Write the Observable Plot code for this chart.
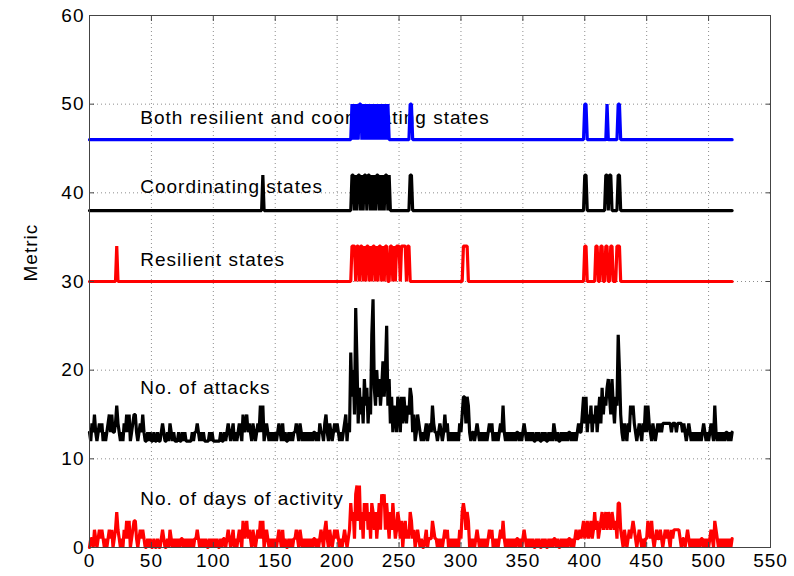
<!DOCTYPE html>
<html>
<head>
<meta charset="utf-8">
<script src="https://cdn.jsdelivr.net/npm/d3@7"></script>
<script src="https://cdn.jsdelivr.net/npm/@observablehq/plot@0.6"></script>
<style>
  html, body { margin: 0; padding: 0; background: #fff; }
  #chart { width: 794px; height: 576px; }
  #chart text { letter-spacing: 1px; }
</style>
</head>
<body>
<div id="chart"></div>
<script>
// ---- Data ----
const xTicks = [0, 50, 100, 150, 200, 250, 300, 350, 400, 450, 500, 550];
const yTicks = [0, 10, 20, 30, 40, 50, 60];

// No. of days of activity, one value per day (day 0..519)
const activityDays = [
  0,1,1,0,2,1,0,1,2,1, 2,1,0,1,0,1,2,1,2,0, 1,2,4,2,1,0,1,0,2,1, 3,1,3,0,1,2,3,3,1,0,
  1,2,1,2,1,0,0,1,0,1, 0,0,1,0,0,1,0,0,1,2, 1,0,0,1,0,2,1,0,1,0, 1,0,1,0,1,1,0,1,0,1,
  0,1,0,1,0,1,1,2,1,0, 1,0,1,0,1,0,0,1,0,1, 0,1,0,1,0,0,1,0,1,1, 0,1,2,1,0,1,2,0,1,0,
  1,2,1,0,3,1,2,3,1,2, 1,0,2,1,0,1,2,1,3,1, 3,0,1,2,1,0,1,0,1,0, 1,0,1,2,1,0,2,0,1,0,
  0,1,0,1,0,1,1,2,1,0, 2,1,0,1,0,1,0,1,0,1, 0,1,1,0,1,0,1,2,1,0, 2,3,1,0,2,1,0,1,2,1,
  2,1,0,1,0,1,2,1,0,1, 2,5,3,4,1,6,7,3,7,2, 4,1,5,3,5,2,4,1,5,4, 2,4,1,3,5,2,6,5,6,2,
  5,3,1,4,2,5,3,1,2,4, 3,1,3,0,2,3,1,2,1,4, 3,1,2,0,1,2,1,0,1,0, 0,1,2,0,1,1,1,3,2,1,
  1,0,1,0,1,0,1,2,1,2, 0,1,0,1,0,1,0,1,0,2, 1,4,5,4,2,4,3,0,1,0, 1,0,1,2,1,0,1,0,1,0,
  1,0,1,2,1,2,0,1,0,1, 0,1,2,1,3,1,0,1,0,1, 0,1,0,1,0,1,1,0,1,0, 1,2,1,0,1,0,1,0,1,0,
  0,1,0,1,0,0,1,0,1,0, 0,1,0,1,0,1,1,0,1,0, 0,1,0,1,0,1,0,1,1,0, 1,0,1,2,1,1,2,1,2,3,
  1,2,3,1,2,3,1,2,4,2, 3,1,2,3,4,2,3,4,2,4, 3,2,4,3,2,3,1,5,5,2, 1,0,2,1,0,1,2,1,2,3,
  2,1,0,1,2,1,0,1,0,1, 1,3,2,1,3,1,0,1,2,1, 1,2,1,0,1,2,1,2,1,0, 2,1,2,2,2,2,2,1,0,1,
  1,0,1,2,1,0,1,0,1,0, 1,0,1,0,1,1,0,1,0,1, 0,1,2,1,0,3,2,1,0,1, 0,1,0,1,0,1,0,1,0,1
];

// No. of attacks (plotted with an offset of 12), one value per day (day 0..519)
const attacks = [
  13,12,14,13,15,13,12,13,14,13, 14,12,13,12,13,14,15,13,15,13, 13,14,16,14,13,12,13,12,14,13,
  15,13,15,12,13,14,15,15,13,12, 13,14,13,15,13,12,12,13,12,13, 12,12,13,12,12,13,12,12,13,14,
  13,12,12,13,12,14,13,12,13,12, 12,12,13,12,12,13,12,13,12,12, 12,12,12,13,12,13,13,14,13,12,
  13,12,13,12,12,12,12,13,12,13, 12,12,12,12,12,12,13,12,12,13, 12,13,14,13,12,13,14,12,13,12,
  13,14,13,12,15,13,14,15,13,14, 13,12,14,13,12,13,14,13,16,13, 16,12,13,14,13,12,13,12,13,12,
  13,12,13,14,13,12,14,12,13,12, 12,13,12,13,12,13,13,14,13,12, 14,13,12,13,12,13,12,13,12,13,
  12,13,13,12,13,12,14,13,13,12, 14,15,13,12,14,13,12,13,14,13, 14,13,12,13,12,13,14,15,12,14,
  13,22,17,20,15,27,21,14,18,15, 17,14,19,16,18,14,17,15,24,28, 18,16,20,17,19,16,18,21,17,20,
  25,16,19,14,17,13,16,15,13,17, 16,13,17,14,17,15,14,16,15,18, 17,13,15,12,13,15,14,13,12,13,
  12,13,14,12,13,14,13,16,14,13, 13,12,13,14,13,12,13,15,13,14, 12,13,12,13,12,13,12,13,12,14,
  13,15,17,17,14,17,16,13,12,13, 13,12,13,14,13,12,13,12,13,12, 13,12,13,14,13,14,12,13,12,13,
  12,13,14,13,16,13,12,13,12,13, 12,13,12,13,12,13,13,12,13,12, 13,14,13,12,13,12,13,12,13,12,
  12,13,12,13,12,12,13,12,13,12, 12,13,12,13,12,14,13,12,13,12, 12,13,12,13,12,13,12,13,13,12,
  13,12,13,12,13,14,13,13,15,17, 14,17,13,15,14,16,13,15,14,16, 13,15,17,14,18,15,17,16,18,19,
  17,15,19,16,14,17,16,24,20,15, 13,12,14,13,12,14,13,16,15,16, 14,13,12,13,14,13,12,14,13,16,
  13,16,14,13,12,14,13,12,13,14, 13,14,13,14,14,14,14,14,14,14, 13,14,14,14,13,14,14,14,14,13,
  14,13,12,13,14,13,12,13,12,13, 12,13,12,13,12,13,14,13,12,13, 12,13,14,13,12,16,13,12,13,12,
  13,12,13,12,13,13,12,13,12,13
];

// Days flagged as a state (the flag line jumps up by 4 on these days)
const resilientDays = [22, 212,213,214, 216,217, 219,220, 222, 224,225, 227, 229,230, 232, 234,235,
  237, 239,240, 243,244, 246, 248,249,250, 252,253,254,255, 257,258, 302,303,304,305,
  400,401, 409,410, 413,414, 417,418, 421,422, 426,427,428];
const coordinatingDays = [140, 212,213, 215, 217,218, 220, 222,223, 225,226, 228, 230, 232,233,
  235, 237, 239,240, 242, 259,260, 400,401, 417,418, 420,421, 427,428];
const bothDays = [212, 214, 216, 218,219, 221, 223, 225, 227, 229, 231, 233, 235, 237, 239,
  241, 259,260, 400,401, 418, 427,428];

const stateBase = {resilient: 30, coordinating: 38, both: 46};
const stateStep = 4;

const labelText = ["Both resilient and coordinating states", "Coordinating states", "Resilient states", "No. of attacks", "No. of days of activity"];
const labelX = [41, 41, 41, 41, 41];
const labelY = [48.4, 40.7, 32.4, 18.0, 5.5];

// ---- Build tables ----
const dayIdx = d3.range(activityDays.length);
const daysData = dayIdx.map(i => ({x: i, y: activityDays[i]}));
const attacksData = dayIdx.map(i => ({x: i, y: attacks[i]}));
function flagSeries(list, base) {
  const s = new Set(list);
  return dayIdx.map(i => ({x: i, y: base + (s.has(i) ? stateStep : 0)}));
}
const resData = flagSeries(resilientDays, stateBase.resilient);
const coordData = flagSeries(coordinatingDays, stateBase.coordinating);
const bothData = flagSeries(bothDays, stateBase.both);
const labels = labelText.map((t, i) => ({t, x: labelX[i], y: labelY[i]}));

const font = "'Liberation Sans', Arial, Helvetica, sans-serif";
const gridStyle = {stroke: "#000", strokeOpacity: 0.45, strokeDasharray: "1,3", strokeWidth: 1};
const lw = 3.2;
const fs = 19;

const chart = Plot.plot({
  width: 794,
  height: 576,
  marginLeft: 89,
  marginRight: 24,
  marginTop: 15,
  marginBottom: 29,
  style: {fontFamily: font, fontSize: fs + "px", background: "#fff", color: "#000", overflow: "visible"},
  x: {domain: [0, 550]},
  y: {domain: [0, 60]},
  marks: [
    Plot.gridX(xTicks, gridStyle),
    Plot.gridY(yTicks, gridStyle),
    Plot.text(labels, {x: "x", y: "y", text: "t", textAnchor: "start", fontSize: fs, fill: "#000"}),
    Plot.line(daysData, {x: "x", y: "y", stroke: "#ff0000", strokeWidth: lw, strokeLinejoin: "miter"}),
    Plot.line(attacksData, {x: "x", y: "y", stroke: "#000", strokeWidth: lw, strokeLinejoin: "miter"}),
    Plot.line(resData, {x: "x", y: "y", stroke: "#ff0000", strokeWidth: lw, strokeLinejoin: "miter"}),
    Plot.line(coordData, {x: "x", y: "y", stroke: "#000", strokeWidth: lw, strokeLinejoin: "miter"}),
    Plot.line(bothData, {x: "x", y: "y", stroke: "#0000ff", strokeWidth: lw, strokeLinejoin: "miter"}),
    Plot.frame({stroke: "#444", strokeWidth: 1}),
    Plot.axisX({ticks: xTicks, tickSize: -5, tickPadding: 11, fontSize: fs, label: null, stroke: "#444"}),
    Plot.axisX({ticks: xTicks, anchor: "top", tickSize: -5, tickFormat: () => "", label: null, stroke: "#444"}),
    Plot.axisY({ticks: yTicks, tickSize: -5, tickPadding: 10, fontSize: fs, label: null, stroke: "#444"}),
    Plot.axisY({ticks: yTicks, anchor: "right", tickSize: -5, tickFormat: () => "", label: null, stroke: "#444"}),
    Plot.text(["Metric"], {frameAnchor: "left", rotate: -90, dx: -59, fontSize: fs, fill: "#000"})
  ]
});
document.getElementById("chart").appendChild(chart);
</script>
</body>
</html>
